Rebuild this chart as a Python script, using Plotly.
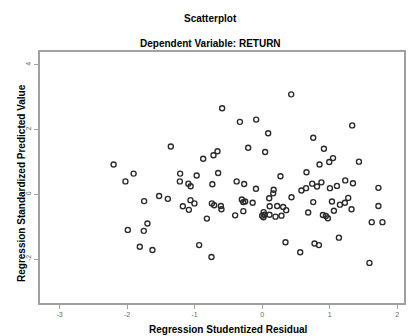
import plotly.graph_objects as go

studentized_residual = [
    -2.20, -2.025, -1.904, -1.99, -1.812, -1.748, -1.699, -1.753, -1.625, -1.526,
    -1.397, -1.353, -1.215, -1.219, -1.093, -1.059, -1.175, -1.086, -1.062, -1.003,
    -0.970, -0.933, -0.874, -0.819, -0.745, -0.711, -0.751, -0.738, -0.721, -0.662,
    -0.652, -0.612, -0.603, -0.593, -0.400, -0.378, -0.330, -0.301, -0.281, -0.279,
    -0.267, -0.252, -0.207, -0.141, -0.092, -0.089, 0.044, 0.089, 0.022, 0.037,
    0.019, 0.000, 0.104, 0.163, 0.170, 0.111, 0.222, 0.311, 0.356, 0.108,
    0.197, 0.286, 0.271, 0.345, 0.430, 0.434, 0.563, 0.581, 0.649, 0.656,
    0.681, 0.741, 0.756, 0.756, 0.775, 0.812, 0.840, 0.849, 0.877, 0.899,
    0.944, 0.973, 0.914, 0.993, 1.049, 1.003, 1.033, 1.062, 1.107, 1.136,
    1.151, 1.225, 1.230, 1.274, 1.323, 1.333, 1.344, 1.433, 1.588, 1.622,
    1.721, 1.721, 1.781,
]
standardized_predicted = [
    0.92, 0.40, 0.64, -1.10, -1.62, -0.21, -0.90, -1.13, -1.72, -0.05,
    -0.14, 1.48, 0.64, 0.40, 0.33, 0.25, -0.37, -0.48, -0.18, -0.28,
    0.58, -1.57, 1.10, -0.75, -0.28, -0.34, -1.94, 0.31, 1.21, 1.33,
    0.66, -0.36, -0.46, 2.66, -0.65, 0.40, 2.24, -0.16, -0.24, -0.52,
    0.32, -0.22, 1.44, -0.26, 0.17, 2.31, 1.31, 1.89, -0.55, -0.63,
    -0.71, -0.66, -0.12, 0.03, 0.14, -0.37, -0.36, -0.39, -0.49, -0.63,
    -0.69, -0.66, 0.56, -1.48, 3.09, -0.09, -1.79, 0.12, 0.19, 0.68,
    -0.56, 0.33, 1.75, -0.24, -1.52, 0.24, -1.57, 0.92, 0.37, -0.64,
    -0.67, -0.74, 1.41, 1.00, 1.12, 0.19, -0.22, -0.51, 0.26, -1.34,
    -0.32, -0.26, 0.43, -0.11, -0.46, 2.13, 0.34, 1.01, -2.12, -0.86,
    0.20, -0.36, -0.86,
]

x_tickvals = [-3, -2, -1, 0, 1, 2]
x_ticktext = ["-3", "-2", "-1", "0", "1", "2"]
y_tickvals = [-2, 0, 2, 4]
y_ticktext = ["-2", "0", "2", "4"]

title_text = "Scatterplot"
subtitle_text = "Dependent Variable: RETURN"
x_title = "Regression Studentized Residual"
y_title = "Regression Standardized Predicted Value"

FONT = "Liberation Sans, Arial, sans-serif"
W, H = 408, 336
ML, MR, MT, MB = 40, 4, 52, 33
PW, PH = W - ML - MR, H - MT - MB


def px_x(px):
    return (px - ML) / PW


def px_y(py):
    return (H - MB - py) / PH


fig = go.Figure()
fig.add_trace(go.Scatter(
    x=studentized_residual,
    y=standardized_predicted,
    mode="markers",
    marker=dict(symbol="circle-open", size=5, color="#2a2a2a",
                line=dict(width=1.4, color="#2a2a2a")),
    showlegend=False,
    hoverinfo="x+y",
))

axis_common = dict(
    showgrid=False, zeroline=False, showline=True, mirror=True,
    linecolor="#a0a0a0", linewidth=1.5, automargin=False,
    ticks="outside", ticklen=4, tickcolor="#a0a0a0", tickwidth=1,
    tickfont=dict(family=FONT, size=7, color="#666666"),
)

fig.update_layout(
    width=W, height=H,
    margin=dict(l=ML, r=MR, t=MT, b=MB, autoexpand=False),
    paper_bgcolor="white", plot_bgcolor="white",
    font=dict(family=FONT, color="black"),
    xaxis=dict(range=[-3.29, 2.10], tickmode="array",
               tickvals=x_tickvals, ticktext=x_ticktext, **axis_common),
    yaxis=dict(range=[-3.36, 4.40], tickmode="array",
               tickvals=y_tickvals, ticktext=y_ticktext, tickangle=-90,
               **axis_common),
)

for txt, px, py in [(title_text, 210, 19), (subtitle_text, 210, 43)]:
    fig.add_annotation(
        text="<b>" + txt + "</b>", x=px_x(px), y=px_y(py),
        xref="paper", yref="paper", xanchor="center", yanchor="middle",
        showarrow=False, font=dict(size=10, family=FONT),
    )

fig.add_annotation(
    text="<b>" + x_title + "</b>", x=px_x(228), y=px_y(329),
    xref="paper", yref="paper", xanchor="center", yanchor="middle",
    showarrow=False, font=dict(size=10, family=FONT),
)
fig.add_annotation(
    text="<b>" + y_title + "</b>", x=px_x(21), y=px_y(183),
    xref="paper", yref="paper", xanchor="center", yanchor="middle",
    textangle=-90, showarrow=False, font=dict(size=10, family=FONT),
)

fig.write_html(
    "out.html",
    config={"displayModeBar": False},
    post_script="document.body.style.margin='0';document.body.style.overflow='hidden';",
)
